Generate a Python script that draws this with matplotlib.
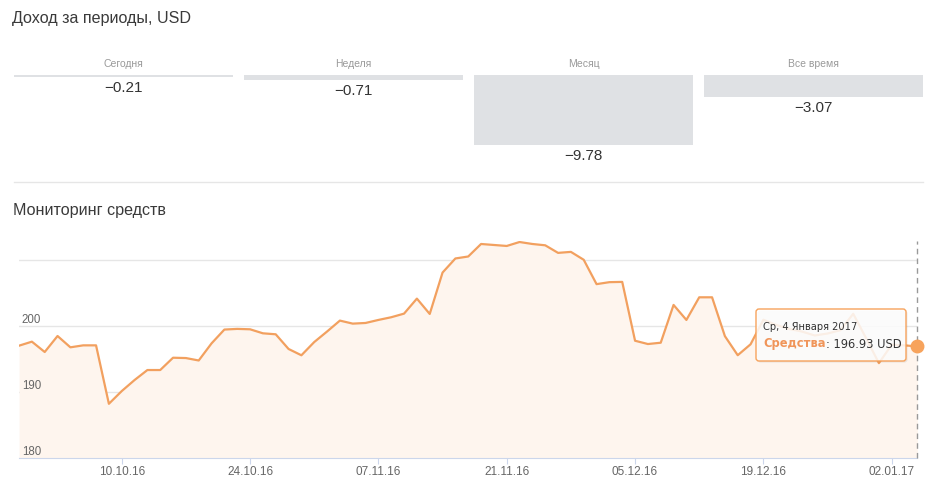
import numpy as np
import pandas as pd
import matplotlib
matplotlib.use("Agg")
import matplotlib.pyplot as plt
from matplotlib.patches import FancyBboxPatch
from matplotlib.lines import Line2D
from matplotlib.text import Annotation

plt.rcParams['font.family'] = ['Liberation Sans', 'DejaVu Sans']

# income per period
periods = ["Сегодня", "Неделя", "Месяц", "Все время"]
income = [-0.21, -0.71, -9.78, -3.07]

# funds monitoring, one value per business day
dates = pd.bdate_range("2016-09-28", "2017-01-04")
funds = [197.05, 197.66, 196.09, 198.52, 196.80, 197.10, 197.10, 188.22, 190.15, 191.83,
         193.35, 193.35, 195.22, 195.17, 194.80, 197.40, 199.50, 199.60, 199.54, 198.93,
         198.78, 196.55, 195.59, 197.60, 199.20, 200.86, 200.40, 200.50, 200.96, 201.37,
         201.92, 204.20, 201.87, 208.16, 210.30, 210.60, 212.50, 212.35, 212.20, 212.80,
         212.50, 212.30, 211.15, 211.30, 210.10, 206.40, 206.70, 206.74, 197.80, 197.30,
         197.50, 203.24, 200.96, 204.40, 204.40, 198.50, 195.60, 197.26, 201.00, 200.20,
         199.60, 199.20, 198.60, 198.90, 199.40, 201.90, 198.20, 194.40, 197.20, 197.10,
         196.93]
tick_dates = ["2016-10-10", "2016-10-24", "2016-11-07", "2016-11-21",
              "2016-12-05", "2016-12-19", "2017-01-02"]
y_labels = [180, 190, 200]

W, H = 930, 484
fig = plt.figure(figsize=(W / 100, H / 100), dpi=100)


def fx(px):
    return px / W


def fy(py):
    return 1 - py / H


# --- income block ---
fig.text(fx(12), fy(19), "Доход за периоды, USD", fontsize=11.6, color="#3a3a3a", va="center")

bax = fig.add_axes([fx(8.5), fy(160.5), fx(920), (160.5 - 75.3) / H])
pos = np.arange(len(periods))
bax.bar(pos, income, width=0.952, color="#dfe1e4")
bax.set_xlim(-0.5, 3.5)
bax.set_ylim(-12, 0)
bax.axis("off")
for p, name, v in zip(pos, periods, income):
    bax.annotate(name, (p, 0), xytext=(0, 8), textcoords="offset points",
                 ha="center", va="center", fontsize=7.5, color="#999999")
    bax.annotate(f"{v:.2f}".replace("-", "\u2212"), (p, v), xytext=(0, -8),
                 textcoords="offset points", ha="center", va="center",
                 fontsize=11, color="#333333")

fig.add_artist(Line2D([fx(14), fx(923)], [fy(182.5)] * 2, color="#e6e6e6", lw=1))

# --- funds monitoring ---
fig.text(fx(13), fy(210), "Мониторинг средств", fontsize=11.6, color="#3a3a3a", va="center")

ax = fig.add_axes([fx(19.05), fy(457.9), fx(917.4 - 19.05), (457.9 - 240.7) / H])
x = np.arange(len(funds))
ax.fill_between(x, funds, 180, color="#fef5ee", lw=0)
ax.plot(x, funds, color="#f2a05f", lw=1.6)
ax.axvline(x[-1], color="#999999", lw=1, ls=(0, (4, 3)), clip_on=False, zorder=3)
ax.plot(x[-1], funds[-1], "o", ms=9, color="#f7a35c", clip_on=False, zorder=5)

ax.set_xlim(0, len(funds) - 1)
ax.set_ylim(180, 213)
ax.set_yticks([180, 190, 200, 210])
ax.yaxis.grid(True, color="#e6e6e6", lw=1)
ax.set_axisbelow(True)
ax.tick_params(axis="y", length=0, labelleft=False)

tick_pos = [dates.get_loc(pd.Timestamp(d)) for d in tick_dates]
ax.set_xticks(tick_pos)
ax.set_xticklabels([pd.Timestamp(d).strftime("%d.%m.%y") for d in tick_dates])
ax.tick_params(axis="x", length=4, color="#ccd6eb", labelcolor="#666666",
               labelsize=8.5, pad=2)

for s in ["top", "left", "right"]:
    ax.spines[s].set_visible(False)
ax.spines["bottom"].set_color("#ccd6eb")

for v in y_labels:
    ax.annotate(str(v), (0, v), xytext=(2, 2), textcoords="offset points",
                ha="left", va="baseline", fontsize=8.3, color="#666666")

# --- tooltip ---
tx, ty, tw, th = 756, 309, 150, 52
shadow = FancyBboxPatch(((tx + 1.5) / 100, (H - ty - th - 1.5) / 100), tw / 100, th / 100,
                        boxstyle="round,pad=0,rounding_size=0.03",
                        transform=fig.dpi_scale_trans, fc="#000000", alpha=0.08, lw=0)
box = FancyBboxPatch((tx / 100, (H - ty - th) / 100), tw / 100, th / 100,
                     boxstyle="round,pad=0,rounding_size=0.03",
                     transform=fig.dpi_scale_trans, fc=(1, 1, 1, 0.85),
                     ec="#f7a35c", lw=1)
fig.add_artist(shadow)
fig.add_artist(box)
fig.text(fx(763), fy(327), "Ср, 4 Января 2017", fontsize=7.1, family="DejaVu Sans",
         color="#333333", va="center")
t1 = fig.text(fx(763), fy(344), "Средства", fontsize=8.3, family="DejaVu Sans",
              fontweight="bold", color="#f0955a", va="center")
rest = Annotation(f": {funds[-1]:.2f} USD", xy=(1, 0.5), xycoords=t1, va="center",
                  ha="left", fontsize=8.3, family="DejaVu Sans", color="#333333")
fig.add_artist(rest)

fig.savefig("out.png", dpi=100)
